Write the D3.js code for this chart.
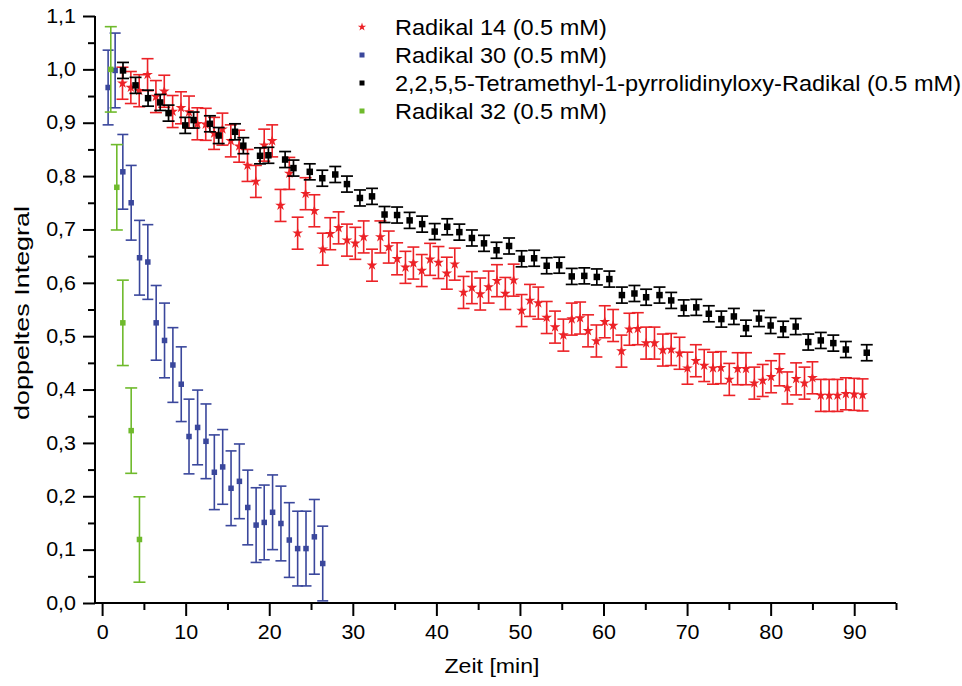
<!DOCTYPE html>
<html><head><meta charset="utf-8">
<script src="https://cdn.jsdelivr.net/npm/d3@7"></script>
<style>
html,body{margin:0;padding:0;background:#fff;}
svg{display:block;font-family:"Liberation Sans",Arial,sans-serif;}
</style></head>
<body><svg id="c" width="962" height="686"></svg>
<script>
// ---- data ----
const seriesNames = ["Radikal 14 (0.5 mM)","Radikal 30 (0.5 mM)","2,2,5,5-Tetramethyl-1-pyrrolidinyloxy-Radikal (0.5 mM)","Radikal 32 (0.5 mM)"];
const r14T = [2.44,3.44,4.44,5.44,6.44,7.44,8.44,9.44,10.4,11.4,12.4,13.4,14.4,15.4,16.4,17.4,18.4,19.4,20.35,21.35,22.4,23.4,24.35,25.4,26.4,27.3,28.3,29.3,30.3,31.3,32.3,33.3,34.3,35.3,36.3,37.25,38.25,39.25,40.25,41.25,42.2,43.25,44.25,45.25,46.25,47.25,48.25,49.25,50.2,51.2,52.2,53.2,54.2,55.2,56.2,57.2,58.15,59.15,60.15,61.15,62.15,63.1,64.1,65.1,66.1,67.1,68.1,69.1,70.05,71.05,72.05,73.1,74.05,75.05,76.05,77.05,78.05,79.05,80.05,81.05,82.0,83.05,84.05,85.0,86.0,87.0,88.0,89.0,90.0,91.0];
const r14V = [0.974,0.966,0.960,0.990,0.949,0.959,0.921,0.928,0.920,0.898,0.897,0.880,0.888,0.866,0.856,0.820,0.790,0.858,0.866,0.745,0.805,0.693,0.767,0.735,0.663,0.692,0.703,0.680,0.674,0.686,0.633,0.686,0.667,0.645,0.629,0.637,0.623,0.644,0.638,0.618,0.635,0.582,0.591,0.579,0.592,0.604,0.580,0.605,0.548,0.567,0.562,0.535,0.517,0.502,0.532,0.534,0.510,0.491,0.527,0.520,0.472,0.513,0.514,0.487,0.487,0.474,0.475,0.468,0.440,0.454,0.445,0.440,0.441,0.419,0.439,0.439,0.412,0.417,0.424,0.437,0.403,0.420,0.412,0.422,0.389,0.389,0.389,0.392,0.391,0.390];
const r14E = 0.03;
const r30T = [0.72,1.56,2.48,3.48,4.48,5.47,6.47,7.47,8.47,9.47,10.4,11.43,12.43,13.43,14.43,15.43,16.43,17.43,18.43,19.4,20.4,21.4,22.4,23.4,24.4,25.4,26.4];
const r30V = [0.966,0.998,0.808,0.750,0.647,0.639,0.525,0.492,0.446,0.410,0.312,0.329,0.303,0.245,0.255,0.215,0.228,0.179,0.146,0.151,0.170,0.149,0.118,0.102,0.102,0.124,0.074];
const r30E = 0.07;
const tempoT = [2.5,4.0,5.5,6.95,7.95,9.95,10.95,12.9,13.95,15.9,16.9,18.9,19.9,21.9,22.9,24.85,26.35,27.9,29.3,30.85,32.3,33.8,35.3,36.8,38.3,39.8,41.3,42.75,44.25,45.7,47.2,48.7,50.2,51.7,53.2,54.7,56.2,57.7,59.2,60.7,62.2,63.7,65.1,66.7,68.1,69.6,71.1,72.6,74.1,75.6,77.05,78.6,80.0,81.5,83.0,84.5,86.0,87.5,89.0,91.5];
const tempoV = [0.998,0.970,0.946,0.938,0.918,0.895,0.905,0.898,0.876,0.883,0.857,0.838,0.839,0.831,0.815,0.808,0.796,0.803,0.785,0.759,0.762,0.728,0.727,0.717,0.710,0.696,0.705,0.695,0.684,0.674,0.661,0.669,0.645,0.646,0.632,0.633,0.612,0.613,0.611,0.607,0.577,0.580,0.573,0.577,0.567,0.553,0.554,0.542,0.532,0.537,0.515,0.533,0.520,0.513,0.518,0.489,0.492,0.487,0.475,0.469];
const tempoE = 0.015;
const r32T = [1.04,1.76,2.48,3.48,4.47];
const r32V = [1.0,0.779,0.525,0.323,0.119];
const r32E = 0.08;
const xTicks = [0,10,20,30,40,50,60,70,80,90];
const yTicks = [0,0.1,0.2,0.3,0.4,0.5,0.6,0.7,0.8,0.9,1.0,1.1];
const colors = ["#ec2227","#3a479c","#000000","#6fba2c"];

// ---- scales ----
const svg = d3.select("#c");
const x = d3.scaleLinear().domain([-0.85, 95]).range([95, 896]);
const y = d3.scaleLinear().domain([0, 1.1]).range([603, 16]);

// horizontal stretch helper for text (reference glyphs are slightly wide)
function stretch(sel, s) {
  sel.each(function(){
    const t = d3.select(this);
    const ax = +(t.attr("x") || 0);
    t.attr("transform", `translate(${ax},0) scale(${s},1) translate(${-ax},0)`);
  });
}

const fmtY = d => d3.format(".1f")(d).replace(".", ",");
const yMinor = d3.range(0.05, 1.1, 0.1);
const xMinor = d3.range(5, 96, 10);

svg.append("g").attr("transform","translate(95,0)")
  .call(d3.axisLeft(y).tickValues(yMinor).tickSize(7).tickFormat(""))
  .call(g=>g.select(".domain").remove())
  .selectAll("line").attr("stroke","#000").attr("stroke-width",2);
svg.append("g").attr("transform","translate(95,0)")
  .call(d3.axisLeft(y).tickValues(yTicks).tickSize(12).tickPadding(7).tickFormat(fmtY))
  .call(g=>{
    g.select(".domain").attr("stroke","#000").attr("stroke-width",2).attr("d","M0,16V604");
    g.selectAll("line").attr("stroke","#000").attr("stroke-width",2);
    g.selectAll("text").attr("font-size",19.5).attr("fill","#000").attr("font-family","Liberation Sans, Arial, sans-serif");
    stretch(g.selectAll("text"), 1.1);
  });

svg.append("g").attr("transform","translate(0,603)")
  .call(d3.axisBottom(x).tickValues(xMinor).tickSize(7).tickFormat(""))
  .call(g=>g.select(".domain").remove())
  .selectAll("line").attr("stroke","#000").attr("stroke-width",2);
svg.append("g").attr("transform","translate(0,603)")
  .call(d3.axisBottom(x).tickValues(xTicks).tickSize(13).tickPadding(9).tickFormat(d3.format("d")))
  .call(g=>{
    g.select(".domain").attr("stroke","#000").attr("stroke-width",2).attr("d","M94,0H896");
    g.selectAll("line").attr("stroke","#000").attr("stroke-width",2);
    g.selectAll("text").attr("font-size",19.5).attr("fill","#000").attr("font-family","Liberation Sans, Arial, sans-serif");
    stretch(g.selectAll("text"), 1.1);
  });

// titles
svg.append("text").attr("x", 492).attr("y", 673).attr("text-anchor","middle")
  .attr("font-size",21).attr("textLength",95).attr("lengthAdjust","spacingAndGlyphs").text("Zeit [min]");
svg.append("text").attr("transform","translate(29,313) rotate(-90)").attr("x",-107).attr("y",0)
  .attr("font-size",20.5).attr("textLength",214).attr("lengthAdjust","spacingAndGlyphs").text("doppeltes Integral");

// series
const star = d3.symbol().type(d3.symbolStar);
function drawSeries(T, V, E, color, marker, size, cap, sw) {
  const data = T.map((t,i)=>({t, v:V[i]}));
  const g = svg.append("g");
  const eb = g.selectAll("g.eb").data(data).join("g").attr("stroke", color).attr("stroke-width", sw).attr("fill","none");
  eb.append("line").attr("x1",d=>x(d.t)).attr("x2",d=>x(d.t)).attr("y1",d=>y(d.v+E)).attr("y2",d=>y(d.v-E));
  eb.append("line").attr("x1",d=>x(d.t)-cap/2).attr("x2",d=>x(d.t)+cap/2).attr("y1",d=>y(d.v+E)).attr("y2",d=>y(d.v+E));
  eb.append("line").attr("x1",d=>x(d.t)-cap/2).attr("x2",d=>x(d.t)+cap/2).attr("y1",d=>y(d.v-E)).attr("y2",d=>y(d.v-E));
  if (marker === "star") {
    g.selectAll("path.m").data(data).join("path").attr("class","m")
      .attr("d", star.size(size)()).attr("transform",d=>`translate(${x(d.t)},${y(d.v)})`)
      .attr("fill", color);
  } else {
    g.selectAll("rect.m").data(data).join("rect").attr("class","m")
      .attr("x",d=>x(d.t)-size/2).attr("y",d=>y(d.v)-size/2).attr("width",size).attr("height",size)
      .attr("fill", color);
  }
}
drawSeries(r14T, r14V, r14E, colors[0], "star", 36, 12, 1.6);
drawSeries(r30T, r30V, r30E, colors[1], "square", 5.5, 11, 1.6);
drawSeries(tempoT, tempoV, tempoE, colors[2], "square", 6.5, 12, 1.7);
drawSeries(r32T, r32V, r32E, colors[3], "square", 5.5, 12, 1.6);

// legend
const legY = [27, 55, 83, 111];
const leg = svg.append("g");
seriesNames.forEach((name,i)=>{
  const ly = legY[i];
  if (i === 0) {
    leg.append("path").attr("d", d3.symbol().type(d3.symbolStar).size(22)()).attr("transform",`translate(362,${ly})`).attr("fill",colors[i]);
  } else {
    leg.append("rect").attr("x",359.5).attr("y",ly-2.5).attr("width",5).attr("height",5).attr("fill",colors[i]);
  }
  const t = leg.append("text").attr("x",395).attr("y",ly).attr("dy","0.35em").attr("font-size",22).attr("fill","#000").text(name);
  stretch(t, 1.07);
});
</script>
</body></html>
